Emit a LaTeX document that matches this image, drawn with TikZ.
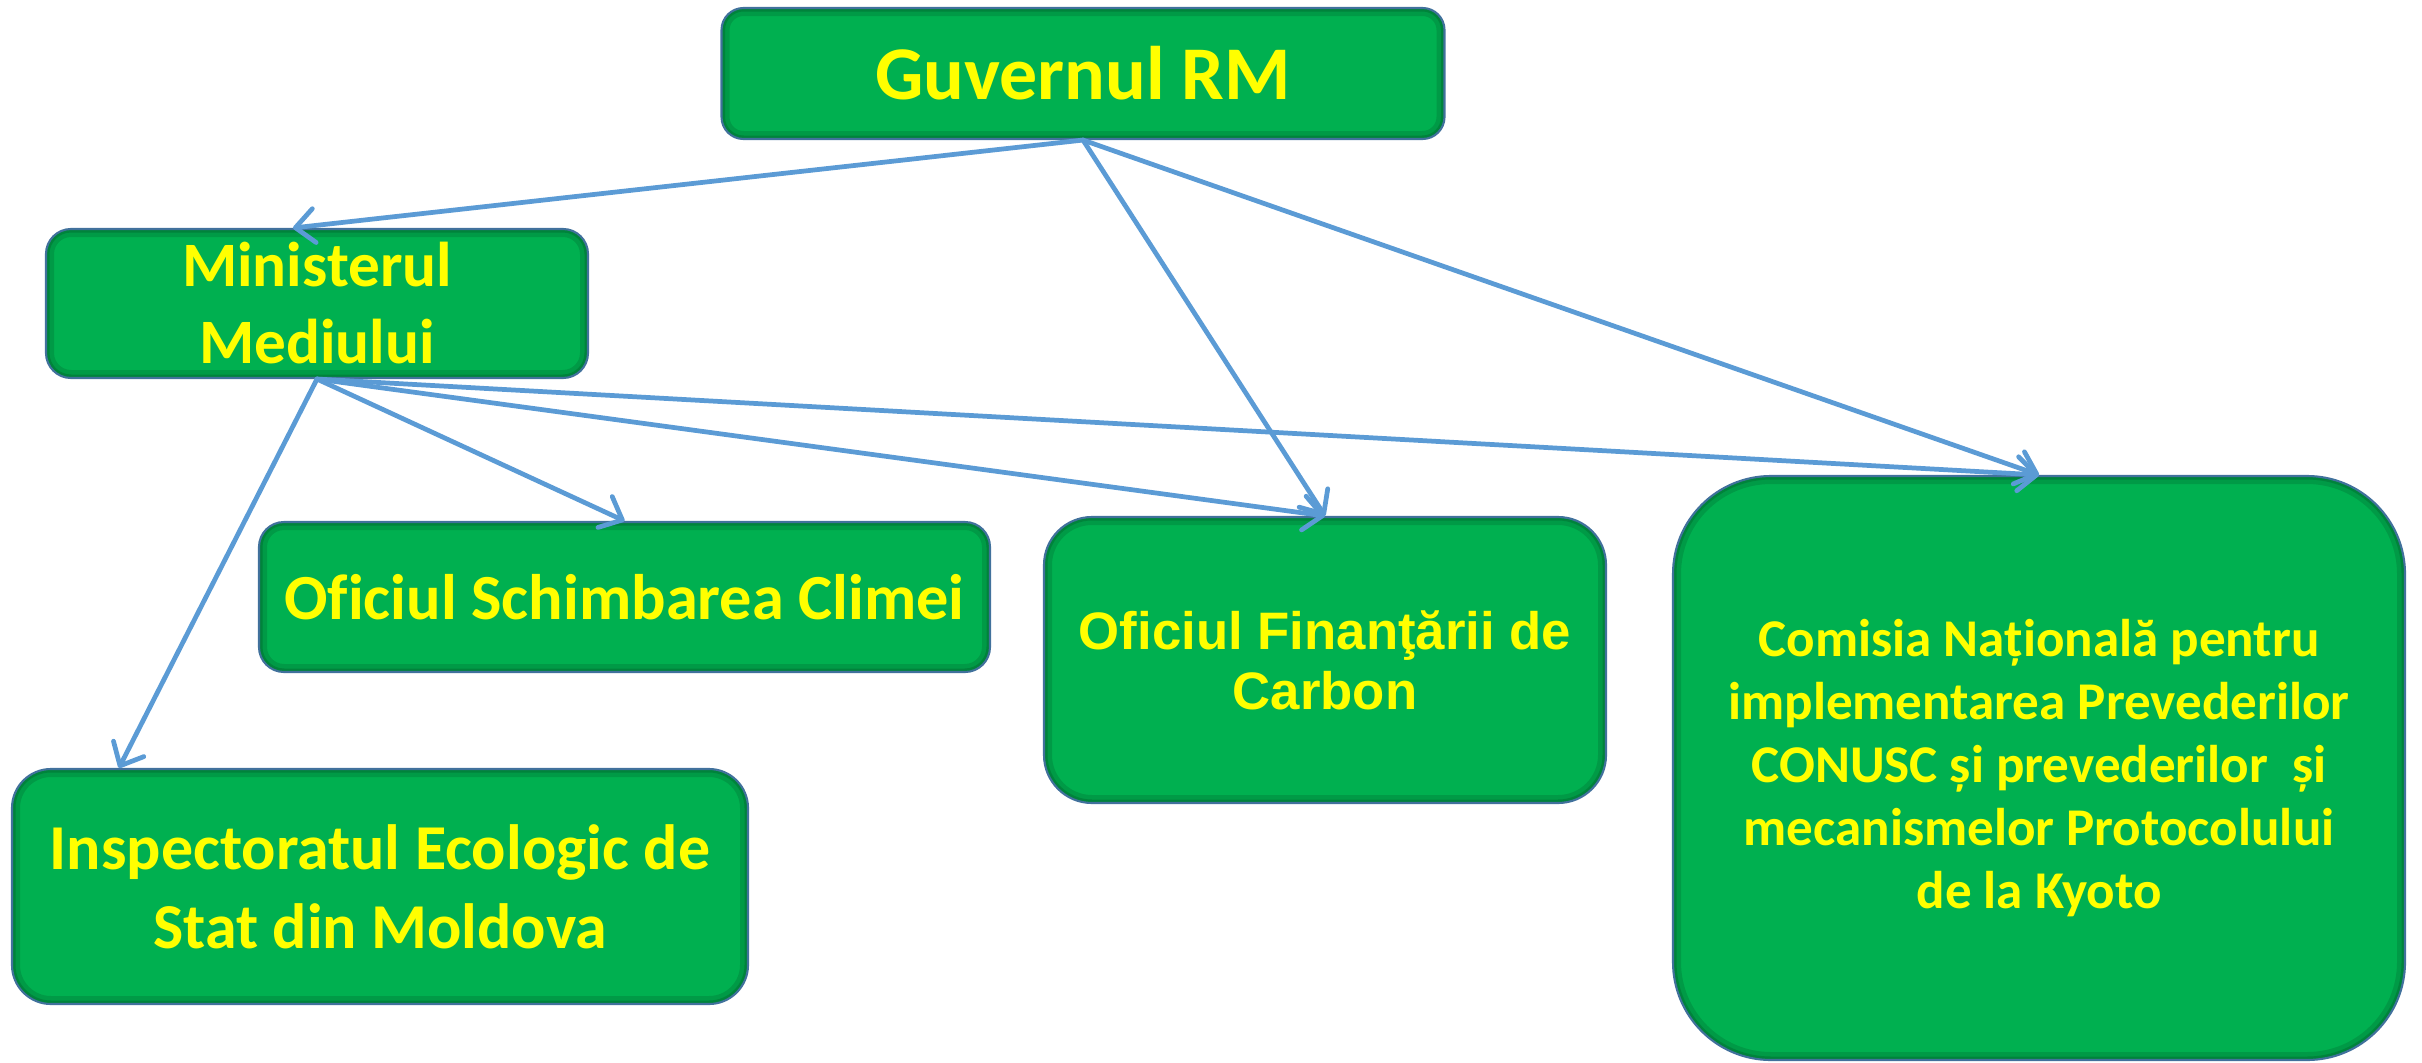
\documentclass[tikz,border=0pt]{standalone}
\usepackage{fontspec}
\setmainfont{Carlito}[Ligatures=NoCommon]
\newfontfamily\arialfont{Liberation Sans}[Ligatures=NoCommon]
\usetikzlibrary{arrows.meta}
\definecolor{boxgreen}{HTML}{00B050}
\definecolor{boxline}{HTML}{41719C}
\definecolor{arrowblue}{HTML}{5B9BD5}
\definecolor{txtyellow}{HTML}{FFFF00}
\tikzset{
  orgbox/.style={draw=boxline, line width=0.6pt, fill=boxgreen, text=txtyellow, align=center, inner sep=0pt, rounded corners=#1,
    path picture={\draw [black, opacity=0.12, line width=0.16cm, rounded corners=#1] (path picture bounding box.south west) rectangle (path picture bounding box.north east);
                  \draw [black, opacity=0.15, line width=0.07cm, rounded corners=#1] (path picture bounding box.south west) rectangle (path picture bounding box.north east);}},
  link/.style={draw=arrowblue, line width=1.35pt, line cap=round, -{Straight Barb[length=0.19cm,width=0.34cm,round]}}
}
\begin{document}
\begin{tikzpicture}
        \useasboundingbox (0,0) rectangle (24.22,-10.62);
        %Boxes
        \node [orgbox=0.22cm, minimum width=7.23cm, minimum height=1.31cm, font=\fontsize{21.6}{26}\selectfont\bfseries] (gov) at (10.83,-0.735) {Guvernul RM};
        \node [orgbox=0.25cm, minimum width=5.42cm, minimum height=1.49cm, font=\fontsize{18}{21.9}\selectfont\bfseries] (min) at (3.17,-3.035) {Ministerul\\Mediului};
        \node [orgbox=0.25cm, minimum width=7.31cm, minimum height=1.50cm, font=\fontsize{18.3}{21.9}\selectfont\bfseries] (osc) at (6.245,-5.97) {Oficiul Schimbarea Climei};
        \node [orgbox=0.48cm, minimum width=5.62cm, minimum height=2.86cm, font=\fontsize{15}{17}\selectfont\arialfont\bfseries] (ofc) at (13.25,-6.60) {Oficiul Finanţării de\\Carbon};
        \node [orgbox=0.98cm, minimum width=7.32cm, minimum height=5.84cm, font=\fontsize{15.1}{17.9}\selectfont\bfseries] (com) at (20.39,-7.68) {Comisia Națională pentru\\implementarea Prevederilor\\CONUSC și prevederilor\ \ și\\mecanismelor Protocolului\\de la Kyoto};
        \node [orgbox=0.39cm, minimum width=7.36cm, minimum height=2.35cm, font=\fontsize{18.2}{22.5}\selectfont\bfseries] (ise) at (3.80,-8.865) {Inspectoratul Ecologic de\\Stat din Moldova};
        %Arrows
        \draw [link] (gov.south) -- ([xshift=-0.24cm]min.north);
        \draw [link] (gov.south) -- (ofc.north);
        \draw [link] (gov.south) -- (com.north);
        \draw [link] (min.south) -- (osc.north);
        \draw [link] (min.south) -- (ofc.north);
        \draw [link] (min.south) -- (com.north);
        \draw [link] (min.south) -- ([xshift=1.08cm]ise.north west);
\end{tikzpicture}
\end{document}
